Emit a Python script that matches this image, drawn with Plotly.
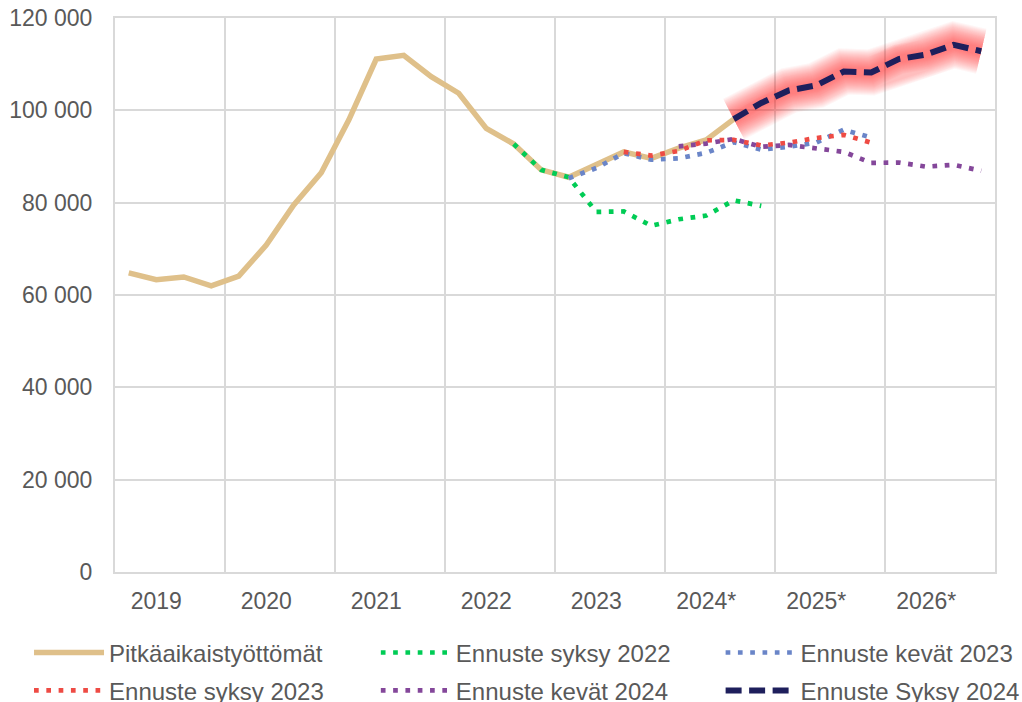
import plotly.graph_objects as go

# ---- data (quarterly, index 0 = 2019 Q1) ----
years = [2019, 2020, 2021, 2022, 2023, 2024, 2025, 2026]
year_labels = ["2019", "2020", "2021", "2022", "2023", "2024*", "2025*", "2026*"]

pitka_start = 0
pitka = [64800, 63300, 63900, 62000, 64100, 70800, 79500, 86500,
         97900, 111100, 111900, 107300, 103700, 96100, 92700, 87100,
         85500, 88300, 91000, 89600, 91800, 93600, 98100]

syksy22_start = 14
syksy22 = [92700, 87100, 85500, 78000, 78100, 75000, 76400, 77200, 80500, 79300]

kevat23_start = 16
kevat23 = [85300, 87500, 90700, 89300, 89600, 90800, 93100, 91500,
           92100, 93000, 95800, 94100]

syksy23_start = 18
syksy23 = [91000, 90200, 91200, 93500, 93600, 92400, 93000, 94000, 94700, 93000]

kevat24_start = 20
kevat24 = [92200, 92800, 93800, 92100, 92500, 91700, 91000, 88600,
           88700, 87800, 88200, 86900]

syksy24_start = 22
syksy24 = [98100, 101600, 104300, 105400, 108400, 108200, 111100, 112100,
           114200, 112800]


def qx(start, n):
    """Quarter index -> fractional year (centre of quarter)."""
    return [years[0] + (start + k + 0.5) / 4.0 for k in range(n)]


FONT = "Liberation Sans, Arial, sans-serif"
TXT = "#595959"
GRID = "#d9d9d9"
DOT = "4.7px,7.6px"

fig = go.Figure()

fig.add_trace(go.Scatter(
    x=qx(pitka_start, len(pitka)), y=pitka, mode="lines",
    name="Pitkäaikaistyöttömät",
    line=dict(color="#DFC08A", width=5.5), legend="legend"))

fig.add_trace(go.Scatter(
    x=qx(syksy22_start, len(syksy22)), y=syksy22, mode="lines",
    name="Ennuste syksy 2022",
    line=dict(color="#00CC55", width=4.7, dash=DOT), legend="legend2"))

fig.add_trace(go.Scatter(
    x=qx(kevat23_start, len(kevat23)), y=kevat23, mode="lines",
    name="Ennuste kevät 2023",
    line=dict(color="#6A85C8", width=4.7, dash=DOT), legend="legend3"))

fig.add_trace(go.Scatter(
    x=qx(syksy23_start, len(syksy23)), y=syksy23, mode="lines",
    name="Ennuste syksy 2023",
    line=dict(color="#EE4B44", width=4.7, dash=DOT), legend="legend4"))

fig.add_trace(go.Scatter(
    x=qx(kevat24_start, len(kevat24)), y=kevat24, mode="lines",
    name="Ennuste kevät 2024",
    line=dict(color="#84479A", width=4.7, dash=DOT), legend="legend5"))

# soft glow around the latest forecast
for w in range(46, 6, -2):
    fig.add_trace(go.Scatter(
        x=qx(syksy24_start, len(syksy24)), y=syksy24, mode="lines",
        line=dict(color="rgba(255,45,45,0.042)", width=w),
        showlegend=False, hoverinfo="skip"))

fig.add_trace(go.Scatter(
    x=qx(syksy24_start, len(syksy24)), y=syksy24, mode="lines",
    name="Ennuste Syksy 2024",
    line=dict(color="#1E1F5C", width=6, dash="16px,7.5px"), legend="legend6"))

common = dict(
    orientation="h", bgcolor="rgba(0,0,0,0)", borderwidth=0,
    font=dict(family=FONT, size=24, color=TXT),
    itemwidth=70, xanchor="left", yanchor="middle",
)
col_x = [-0.0977, 0.2964, 0.6882]
row_y = [-0.146, -0.2145]

fig.update_layout(
    width=1022, height=702,
    margin=dict(l=114.5, r=27, t=18, b=130, autoexpand=False),
    paper_bgcolor="white", plot_bgcolor="white",
    separators=", ",
    font=dict(family=FONT, size=23, color=TXT),
    legend=dict(common, x=col_x[0], y=row_y[0]),
    legend2=dict(common, x=col_x[1], y=row_y[0]),
    legend3=dict(common, x=col_x[2], y=row_y[0]),
    legend4=dict(common, x=col_x[0], y=row_y[1]),
    legend5=dict(common, x=col_x[1], y=row_y[1]),
    legend6=dict(common, x=col_x[2], y=row_y[1]),
    xaxis=dict(
        range=[2019, 2027],
        tickmode="array",
        tickvals=[y + 0.375 for y in years],
        ticktext=year_labels,
        showgrid=False, zeroline=False,
        ticks="", ticklabelstandoff=7,
        tickfont=dict(family=FONT, size=23, color=TXT),
        minor=dict(tickmode="array", tickvals=list(range(2019, 2028)),
                   showgrid=True, gridcolor=GRID, gridwidth=2, ticks=""),
        showline=True, mirror=True, linecolor=GRID, linewidth=2,
    ),
    yaxis=dict(
        range=[0, 120000],
        tickmode="linear", tick0=0, dtick=20000,
        tickformat=",d",
        showgrid=True, gridcolor=GRID, gridwidth=2, zeroline=False,
        ticks="", ticklabelstandoff=16,
        tickfont=dict(family=FONT, size=23, color=TXT),
        showline=True, mirror=True, linecolor=GRID, linewidth=2,
    ),
)

fig.write_html("out.html", config={"displayModeBar": False},
               post_script="document.body.style.margin='0';")
